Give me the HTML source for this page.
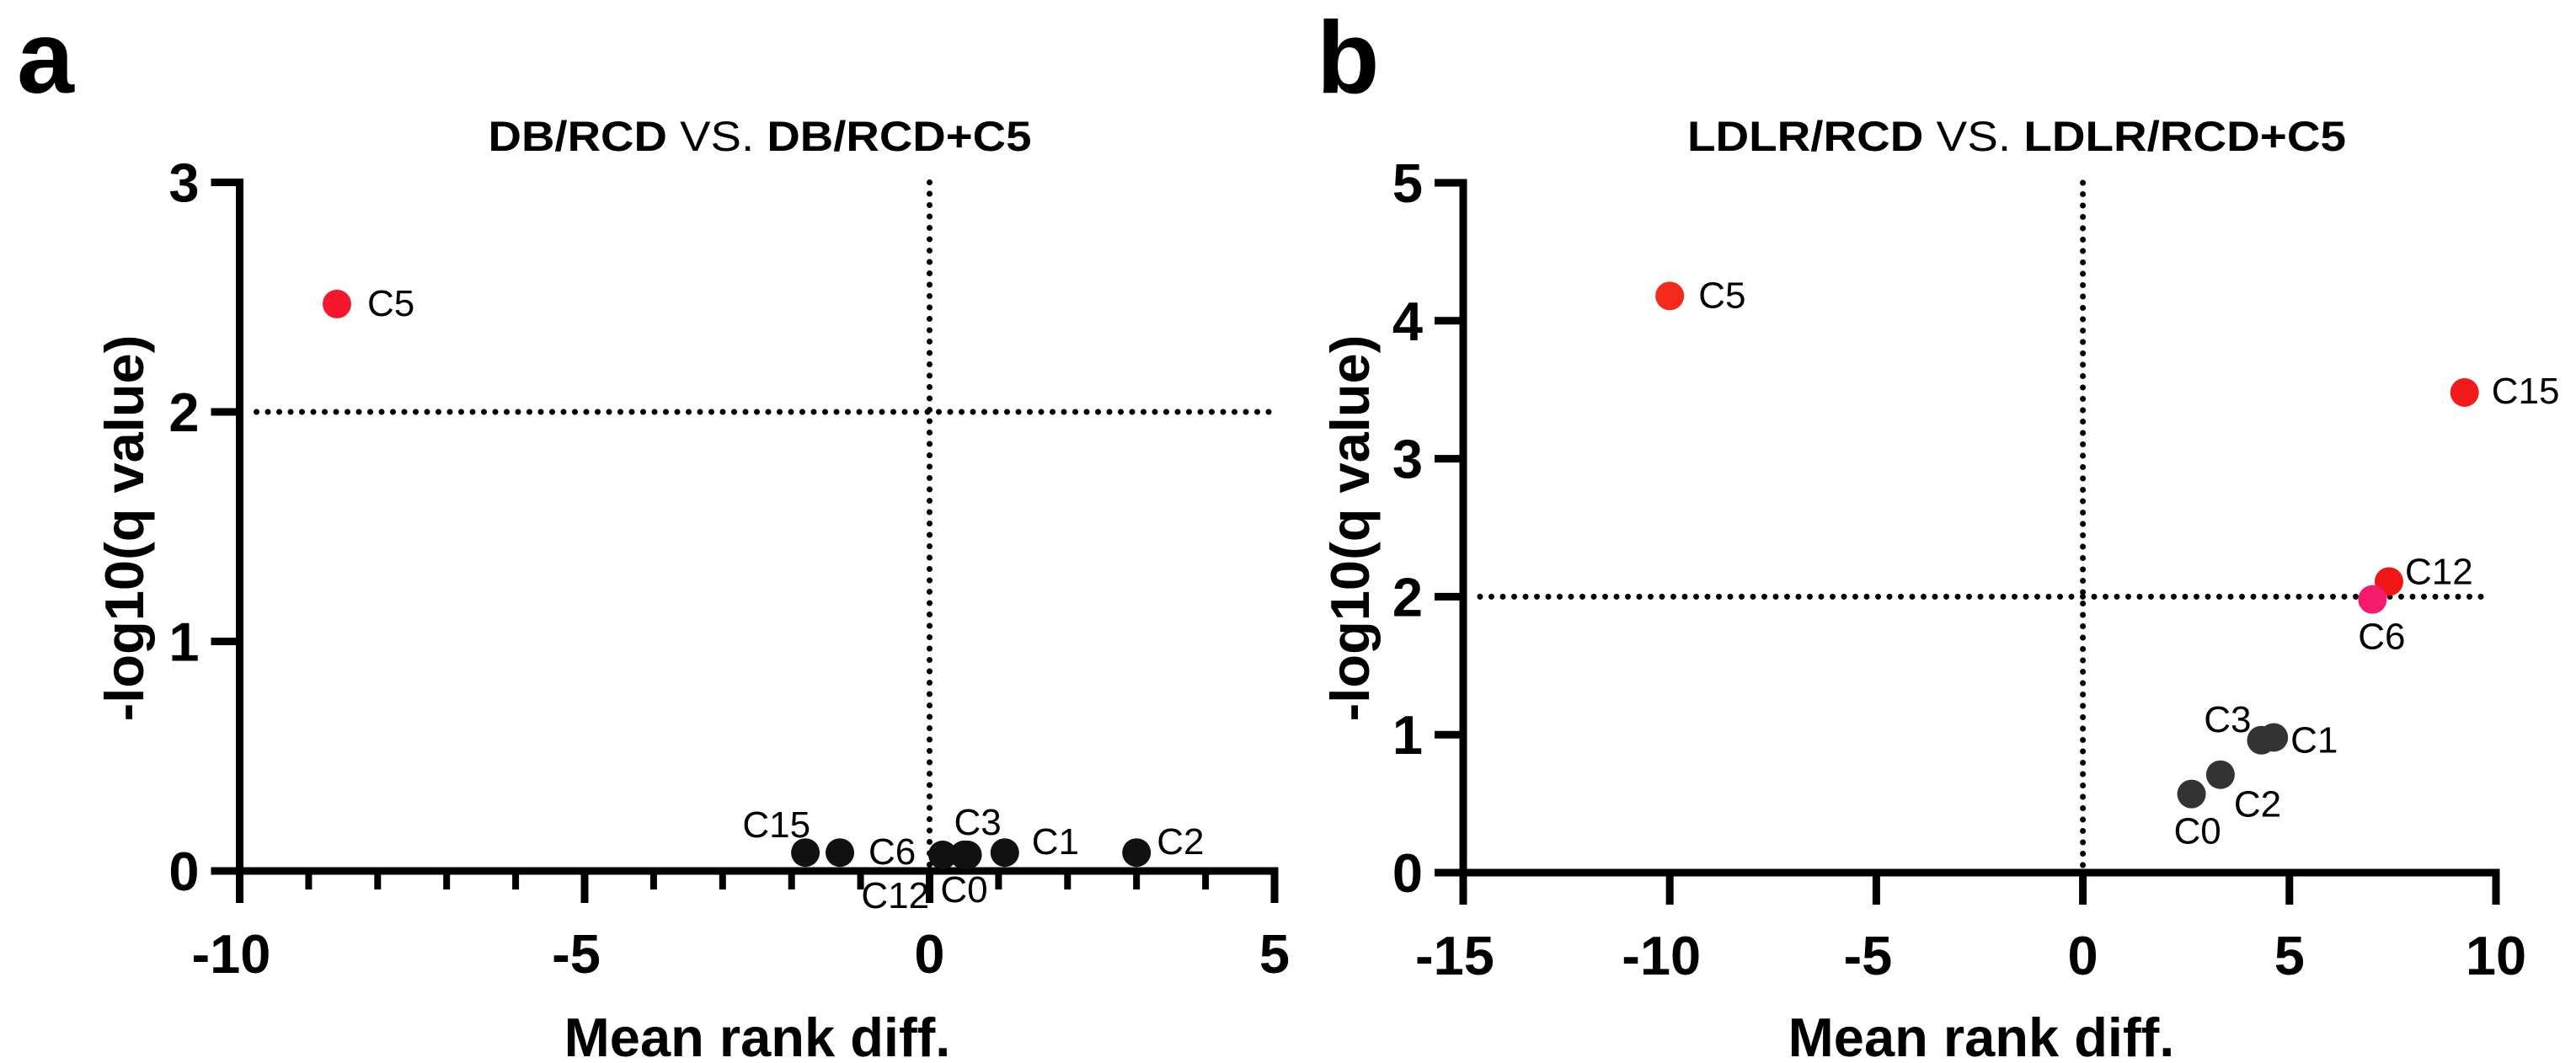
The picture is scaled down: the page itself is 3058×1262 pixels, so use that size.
<!DOCTYPE html>
<html><head><meta charset="utf-8"><style>
html,body{margin:0;padding:0;background:#fff;}
svg{display:block;font-family:"Liberation Sans",Arial,sans-serif;}
</style></head><body>
<svg id="fig" width="3058" height="1262" viewBox="0 0 3058 1262"></svg>
<script>
// ---- Panel a data ----
const aLabels = ["C5","C15","C6","C12","C0","C3","C1","C2"];
const aX = [-8.59,-1.80,-1.30,0.19,0.50,0.55,1.09,3.00];
const aY = [2.47,0.08,0.08,0.07,0.07,0.07,0.08,0.08];
const aColors = ["#f5182d","#111","#111","#111","#111","#111","#111","#111"];
const aXTicks = [-10,-5,0,5];
const aYTicks = [0,1,2,3];
// ---- Panel b data ----
const bLabels = ["C5","C15","C12","C6","C3","C1","C2","C0"];
const bX = [-10.0,9.24,7.41,7.01,4.32,4.62,3.33,2.63];
const bY = [4.18,3.48,2.11,1.98,0.96,0.98,0.71,0.57];
const bColors = ["#f52a1a","#f51a1a","#f21515","#f51a6b","#333","#333","#333","#333"];
const bXTicks = [-15,-10,-5,0,5,10];
const bYTicks = [0,1,2,3,4,5];

const NS="http://www.w3.org/2000/svg";
const svg=document.getElementById('fig');
function mk(tag,attrs,parent,text){const e=document.createElementNS(NS,tag);for(const k in attrs)e.setAttribute(k,attrs[k]);if(text!==undefined)e.textContent=text;(parent||svg).appendChild(e);return e;}

function panel(cfg){
  const g=mk('g',{});
  
  
  const sx=v=>cfg.x0+(v-cfg.xmin)/(cfg.xmax-cfg.xmin)*(cfg.x1-cfg.x0);
  const sy=v=>cfg.y0-(v-cfg.ymin)/(cfg.ymax-cfg.ymin)*(cfg.y0-cfg.y1);
  const L=mk('text',{x:cfg.letterX,y:110,'font-size':122,'font-weight':'bold'},g,cfg.letter);
  
  
  const T=mk('text',{x:cfg.titleX,y:179,'font-size':50,'font-weight':'bold','text-anchor':'middle',textLength:cfg.titleW,lengthAdjust:'spacingAndGlyphs'},g);
  
  
  mk('tspan',{},T,cfg.t1);mk('tspan',{'font-weight':'normal'},T,' VS. ');mk('tspan',{},T,cfg.t2);
  const h=mk('line',{x1:sx(cfg.xmin)+20,x2:cfg.x1+(cfg.extR||0),y1:sy(2),y2:sy(2),stroke:'#000','stroke-width':7,'stroke-dasharray':'0 13.5','stroke-linecap':'round'},g);
  
  
  const v=mk('line',{x1:sx(0),x2:sx(0),y1:cfg.y1,y2:cfg.y0,stroke:'#000','stroke-width':7,'stroke-dasharray':'0 13.5','stroke-linecap':'round'},g);
  
  
  const ya=mk('line',{x1:cfg.x0,x2:cfg.x0,y1:cfg.y1-4.5,y2:cfg.y0+4,stroke:'#000','stroke-width':9},g);
  
  
  const xa=mk('line',{x1:cfg.x0-34,x2:cfg.x1+4.5,y1:cfg.y0,y2:cfg.y0,stroke:'#000','stroke-width':9},g);
  
  
  cfg.yt.forEach(t=>{
    const y=sy(t);
    const tk=mk('line',{x1:cfg.x0-34,x2:cfg.x0,y1:y,y2:y,stroke:'#000','stroke-width':9},g);
    
    
    const lb=mk('text',{x:cfg.x0-48,y:y+23,'font-size':65,'font-weight':'bold','text-anchor':'end'},g,String(t));
    
    
  });
  if(cfg.minor){
    for(let t=cfg.xmin;t<=cfg.xmax;t++){
      if(cfg.xt.includes(t))continue;
      const x=sx(t);
      const mt=mk('line',{x1:x,x2:x,y1:cfg.y0,y2:cfg.y0+22,stroke:'#000','stroke-width':8},g);
      
      
    }
  }
  cfg.xt.forEach(t=>{
    const x=sx(t);
    const tk=mk('line',{x1:x,x2:x,y1:cfg.y0,y2:cfg.y0+38,stroke:'#000','stroke-width':9},g);
    
    
    const lb=mk('text',{x:x-(t<0?10:0),y:cfg.y0+121,'font-size':65,'font-weight':'bold','text-anchor':'middle'},g,String(t));
    
    
  });
  const xt=mk('text',{x:cfg.xTitleX,y:1254,'font-size':65,'font-weight':'bold','text-anchor':'middle'},g,'Mean rank diff.');
  
  
  const ytl=mk('text',{x:0,y:0,'font-size':65,'font-weight':'bold','text-anchor':'middle',transform:`translate(${cfg.yTitleX},627) rotate(-90)`},g,'-log10(q value)');
  
  
  cfg.xs.forEach((xv,i)=>{
    const cx=sx(xv),cy=sy(cfg.ys[i]);
    const c=mk('circle',{cx:cx,cy:cy,r:17,fill:cfg.colors[i]},g);
    
    
    const o=cfg.off[i];
    const tx=mk('text',{x:cx+o[0],y:cy+o[1],'font-size':44,'text-anchor':o[2]},g,cfg.labels[i]);
    
    
  });
}

panel({name:'panel-a',letter:'a',letterX:20,t1:'DB/RCD',t2:'DB/RCD+C5',titleX:902,titleW:645,
  x0:284.5,x1:1513,y0:1034,y1:216.5,xmin:-10,xmax:5,ymin:0,ymax:3,minor:true,extR:-5,
  xt:aXTicks,yt:aYTicks,xs:aX,ys:aY,colors:aColors,labels:aLabels,xTitleX:899,yTitleX:170,
  off:[[36,14,'start'],[6,-18,'end'],[34,14,'start'],[-16,63,'end'],[0,56,'middle'],[-16,-24,'start'],[32,2,'start'],[24,2,'start']]});

panel({name:'panel-b',letter:'b',letterX:1563,t1:'LDLR/RCD',t2:'LDLR/RCD+C5',titleX:2394,titleW:782,
  x0:1737,x1:2963,y0:1036,y1:217,xmin:-15,xmax:10,ymin:0,ymax:5,minor:false,extR:-5,
  xt:bXTicks,yt:bYTicks,xs:bX,ys:bY,colors:bColors,labels:bLabels,xTitleX:2352,yTitleX:1625,
  off:[[34,14,'start'],[32,13,'start'],[19,3,'start'],[11,59,'middle'],[-12,-10,'end'],[20,18,'start'],[16,50,'start'],[7,59,'middle']]});
</script>
</body></html>
